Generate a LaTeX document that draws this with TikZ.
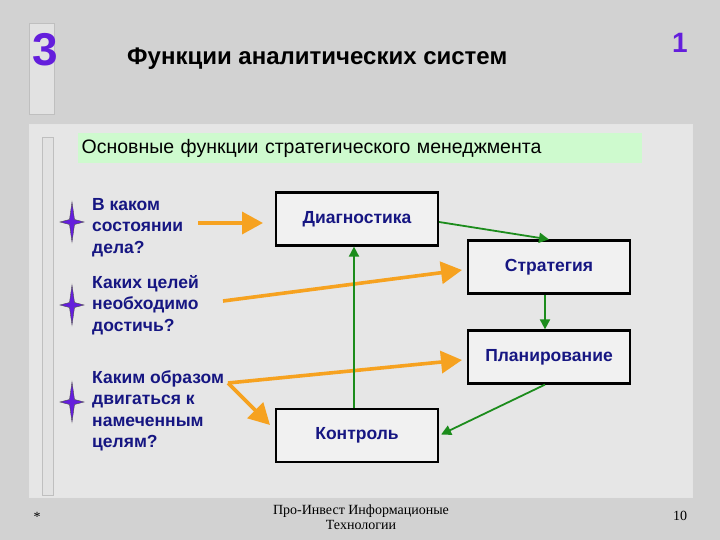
\documentclass[tikz,border=0pt]{standalone}
\usepackage{fontspec}
\setmainfont{Liberation Sans}
\newfontfamily\seriffont{Liberation Serif}
\usetikzlibrary{arrows.meta}
\definecolor{bgc}{RGB}{210,210,210}
\definecolor{panelc}{RGB}{234,234,234}
\definecolor{navyc}{RGB}{22,22,130}
\definecolor{purp}{RGB}{100,30,220}
\definecolor{orangec}{RGB}{246,162,32}
\definecolor{greenc}{RGB}{28,140,28}
\definecolor{lgreen}{RGB}{206,250,206}
\definecolor{barc}{RGB}{226,226,226}
\tikzset{
  question/.style={anchor=west, align=left, inner sep=0pt, text=navyc,
    font=\fontsize{17.5}{21.5}\selectfont\bfseries},
  fbox/.style={draw=black, line width=2.2pt, fill=white, fill opacity=0.45,
    text opacity=1, minimum width=162pt, minimum height=53pt, inner sep=0pt,
    text=navyc, font=\fontsize{17.5}{20}\selectfont\bfseries},
  oarrow/.style={draw=orangec, line width=3.6pt,
    -{Triangle[length=21pt,width=22pt]}},
  garrow/.style={draw=greenc, line width=1.8pt,
    -{Triangle[length=10pt,width=10pt]}},
  starfill/.style={fill=purp, draw=black!70, line width=0.4pt},
  bar/.style={fill=barc, draw=black!25, line width=0.8pt}
}
\newcommand{\mystar}[2]{%
  \fill[starfill] (#1,#2-20) -- (#1+2.5,#2-2.5) -- (#1+12,#2) -- (#1+2.5,#2+2.5)
   -- (#1,#2+20) -- (#1-2.5,#2+2.5) -- (#1-12,#2) -- (#1-2.5,#2-2.5) -- cycle;}
\begin{document}
\begin{tikzpicture}[x=1pt,y=-1pt]
\useasboundingbox (0,0) rectangle (720,540);
\fill[bgc] (0,0) rectangle (720,540);

% top bar with number
\draw[bar] (29,23) rectangle (54,114);
\node[inner sep=0pt, text=purp, font=\fontsize{46}{46}\selectfont\bfseries] (num) at (45,49.5) {3};
\node[anchor=west, inner sep=0pt, font=\fontsize{24}{28}\selectfont\bfseries] (title) at (127,59) {Функции аналитических систем};
\node[inner sep=0pt, text=purp, font=\fontsize{28}{28}\selectfont\bfseries] (one) at (680,43) {1};

% main panel
\draw[fill=panelc, fill opacity=0.85, draw=white!90!black, line width=1pt] (29,125) rectangle (692,497);
\draw[bar] (42,137) rectangle (53,495);

% green heading
\node[anchor=north west, fill=lgreen, minimum width=564pt, minimum height=30pt,
  inner sep=0pt, text width=557pt, align=left, font=\fontsize{19.5}{22}\selectfont] (head) at (78,133) {Основные функции стратегического менеджмента};

% stars
\mystar{72}{222}
\mystar{72}{305}
\mystar{72}{402}

% questions
\node[question] (q1) at (92,227.5) {В каком\\состоянии\\дела?};
\node[question] (q2) at (92,305) {Каких целей\\необходимо\\достичь?};
\node[question] (q3) at (92,411) {Каким образом\\двигаться к\\намеченным\\целям?};

% boxes
\node[fbox] (diag) at (357,219) {Диагностика};
\node[fbox] (strat) at (549,267) {Стратегия};
\node[fbox] (plan) at (549,357) {Планирование};
\node[fbox] (kontr) at (357,435.5) {Контроль};

% orange arrows
\coordinate (a1) at (198,223);
\coordinate (a1e) at (263,223);
\coordinate (a2) at (223,301);
\coordinate (a2e) at (462,270);
\coordinate (j) at (228,383);
\coordinate (a3e) at (462,360);
\coordinate (a4e) at (270,425);
\draw[oarrow] (a1) -- (a1e);
\draw[oarrow] (a2) -- (a2e);
\draw[oarrow] (j) -- (a3e);
\draw[oarrow] (j) -- (a4e);

% green arrows
\draw[garrow] ([yshift=-3pt]diag.east) -- (strat.north);
\draw[garrow] ([xshift=-4pt]strat.south) -- ([xshift=-4pt]plan.north);
\draw[garrow] ([xshift=-4pt]plan.south) -- ([xshift=2pt,yshift=1pt]kontr.east);
\draw[garrow] ([xshift=-3pt]kontr.north) -- ([xshift=-3pt]diag.south);

% footer
\node[font=\seriffont\fontsize{14}{15}\selectfont, inner sep=0pt] (star) at (37,517) {*};
\node[font=\seriffont\fontsize{14}{15}\selectfont, align=center, inner sep=0pt] (foot) at (361,517.5) {Про-Инвест Информационые\\Технологии};
\node[font=\seriffont\fontsize{14}{15}\selectfont, inner sep=0pt] (page) at (680,516) {10};
\end{tikzpicture}
\end{document}
